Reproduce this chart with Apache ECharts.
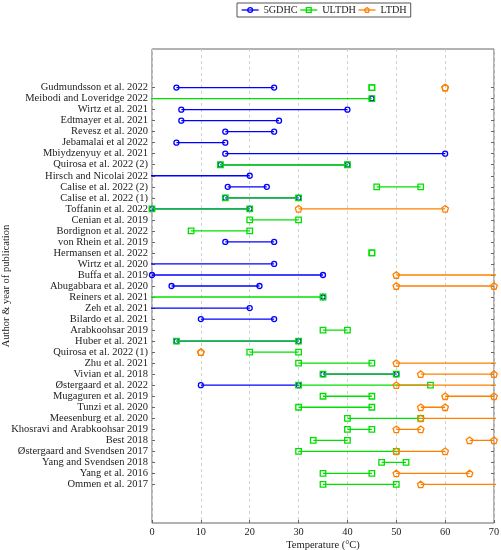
<!DOCTYPE html>
<html>
<head>
<meta charset="utf-8">
<script src="https://cdn.jsdelivr.net/npm/echarts@6/dist/echarts.min.js"></script>
<style>html,body{margin:0;padding:0;background:#fff}#c{width:501px;height:550px}</style>
</head>
<body>
<div id="c"></div>
<script>
var authors = [
  'Gudmundsson et al. 2022','Meibodi and Loveridge 2022','Wirtz et al. 2021','Edtmayer et al. 2021',
  'Revesz et al. 2020','Jebamalai et al 2022','Mbiydzenyuy et al. 2021','Quirosa et al. 2022 (2)',
  'Hirsch and Nicolai 2022','Calise et al. 2022 (2)','Calise et al. 2022 (1)','Toffanin et al. 2022',
  'Cenian et al. 2019','Bordignon et al. 2022','von Rhein et al. 2019','Hermansen et al. 2022',
  'Wirtz et al. 2020','Buffa et al. 2019','Abugabbara et al. 2020','Reiners et al. 2021',
  'Zeh et al. 2021','Bilardo et al. 2021','Arabkoohsar 2019','Huber et al. 2021',
  'Quirosa et al. 2022 (1)','Zhu et al. 2021','Vivian et al. 2018','Østergaard et al. 2022',
  'Mugaguren et al. 2019','Tunzi et al. 2020','Meesenburg et al. 2020','Khosravi and Arabkoohsar 2019',
  'Best 2018','Østergaard and Svendsen 2017','Yang and Svendsen 2018','Yang et al. 2016','Ommen et al. 2017'
];
// [min, max] temperature ranges per author (null = not reported); values beyond 0..70 are clipped by the axis
var gdhc5 = [
  [5,25],[45,45],[6,40],[6,26],[15,25],[5,15],[15,60],[14,40],[-5,20],[15.5,23.5],[15,30],[0,20],
  null,null,[15,25],null,[-5,25],[0,35],[4,22],[35,35],[-5,20],[10,25],null,[5,30],
  null,null,[35,50],[10,30],null,null,null,null,null,null,null,null,null
];
var ultdh = [
  [45,45],[-5,45],null,null,null,null,null,[14,40],null,[46,55],[15,30],[0,20],
  [20,30],[8,20],null,[45,45],null,null,null,[-5,35],null,null,[35,40],[5,30],
  [20,30],[30,45],[35,50],[30,57],[35,45],[30,45],[40,55],[40,45],[33,40],[30,50],[47,52],[35,45],[35,50]
];
var ltdh = [
  [60,60],null,null,null,null,null,null,null,null,null,null,[30,60],
  null,null,null,null,null,[50,80],[50,70],null,null,null,null,null,
  [10,10],[50,80],[55,70],[50,80],[60,70],[55,60],[55,80],[50,55],[65,70],[50,60],null,[50,65],[55,80]
];
var seriesNames = ['5GDHC','ULTDH','LTDH'];
var xTicks = [0,10,20,30,40,50,60,70];

var PAD = 3;
var cats = [];
for (var p = 0; p < PAD; p++) cats.push(' '.repeat(p+1));
authors.forEach(function(a){cats.push(a);});
for (var p = 0; p < PAD; p++) cats.push('\u00a0'.repeat(p+1));

var styles = [
  {color:'#0000ff', symbol:'circle', size:5},
  {color:'#00e000', symbol:'rect', size:5.5},
  {color:'#ff8000', symbol:'path://M0,-1 L0.951,-0.309 L0.588,0.809 L-0.588,0.809 L-0.951,-0.309 Z', size:6.5}
];
var sets = [gdhc5, ultdh, ltdh];
var series = [];
sets.forEach(function(set, k){
  var st = styles[k];
  set.forEach(function(seg, i){
    if (!seg) return;
    series.push({
      type:'line', name: seriesNames[k],
      data: [[seg[0], i+PAD],[seg[1], i+PAD]],
      symbol: st.symbol, symbolSize: st.size, showAllSymbol:true,
      lineStyle:{color: st.color, width:1.3},
      itemStyle:{color:'rgba(255,255,255,0)', borderColor: st.color, borderWidth:1.3},
      clip:true, animation:false, z: 2+k, silent:true
    });
  });
});

var font = 'Liberation Serif';
var chart = echarts.init(document.getElementById('c'), null, {renderer:'canvas'});
chart.setOption({
  backgroundColor:'#fff',
  textStyle:{fontFamily:font},
  legend:{
    data: seriesNames.map(function(n,k){return {name:n, itemStyle:{color:'rgba(255,255,255,0)', borderColor:styles[k].color, borderWidth:1.3}, lineStyle:{color:styles[k].color, width:1.3}};}),
    top:3, left:237, itemWidth:17, itemHeight:6, itemGap:2,
    borderColor:'#555', borderWidth:1, padding:[2,4], borderRadius:0,
    textStyle:{fontFamily:font, fontSize:10.2, color:'#222'}
  },
  grid:{left:152, right:7, top:49, bottom:27, show:true, borderColor:'#666', borderWidth:1, backgroundColor:'transparent', containLabel:false, outerBoundsMode:'none'},
  xAxis:{
    type:'value', min:xTicks[0], max:xTicks[xTicks.length-1], interval:10,
    name:'Temperature (°C)', nameLocation:'middle', nameGap:16.5, nameMoveOverlap:false,
    nameTextStyle:{fontFamily:font, fontSize:10.5, color:'#222'},
    axisLine:{show:false}, axisTick:{show:true, inside:true, length:3, lineStyle:{color:'#666'}},
    axisLabel:{fontFamily:font, fontSize:10.3, color:'#222', margin:4},
    splitLine:{show:true, lineStyle:{color:'#d0d0d0', type:[3,3], width:1}}
  },
  yAxis:[{
    type:'category', data:cats, inverse:true, boundaryGap:true,
    name:'Author & year of publication', nameLocation:'middle', nameGap:140, nameRotate:90, nameMoveOverlap:false,
    nameTextStyle:{fontFamily:font, fontSize:10.5, color:'#222'},
    axisLine:{show:false},
    axisTick:{show:true, inside:true, length:3, alignWithLabel:true, interval:function(i){return i>=PAD && i<PAD+authors.length;}, lineStyle:{color:'#666'}},
    axisLabel:{interval:0, fontFamily:font, fontSize:10.5, color:'#222', margin:4},
    splitLine:{show:false}
  },{
    type:'category', data:cats, inverse:true, boundaryGap:true, position:'right',
    axisLine:{show:false}, axisLabel:{show:false},
    axisTick:{show:true, inside:true, length:3, alignWithLabel:true, interval:function(i){return i>=PAD && i<PAD+authors.length;}, lineStyle:{color:'#666'}},
    splitLine:{show:false}
  }],
  series: series
});
</script>
</body>
</html>
